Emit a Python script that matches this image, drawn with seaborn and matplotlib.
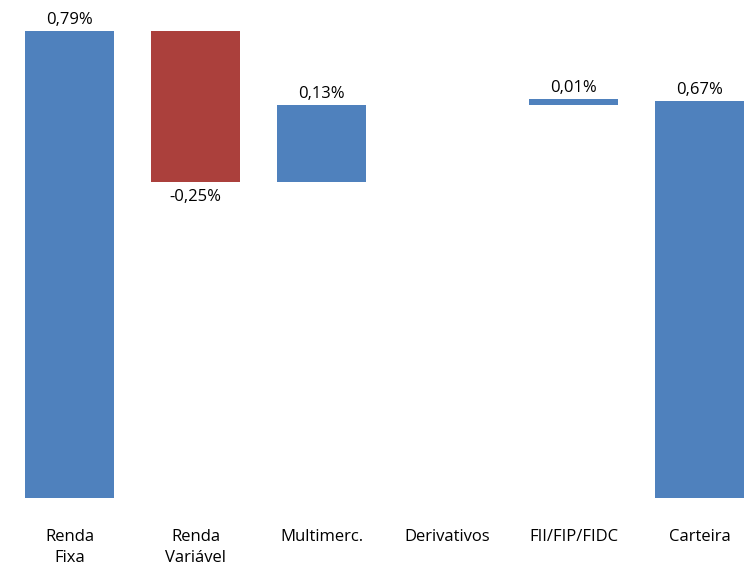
import numpy as np
import pandas as pd
import matplotlib
matplotlib.use("Agg")
import matplotlib.pyplot as plt
import seaborn as sns

# dados do gráfico (contribuição por classe, em %)
categorias = ["Renda\nFixa", "Renda\nVariável", "Multimerc.", "Derivativos", "FII/FIP/FIDC", "Carteira"]
contribuicao = [0.79, -0.255, 0.13, 0.0, 0.01, 0.672]
rotulos = ["0,79%", "-0,25%", "0,13%", "", "0,01%", "0,67%"]
total = [False, False, False, False, False, True]

sns.set_theme(style="white")
plt.rcParams["font.family"] = ["Open Sans", "DejaVu Sans"]

# base de cada barra (cascata)
bases = []
acumulado = 0.0
for v, t in zip(contribuicao, total):
    if t:
        bases.append(0.0)
    else:
        bases.append(acumulado if v >= 0 else acumulado + v)
        acumulado += v
alturas = [abs(v) for v in contribuicao]
cores = ["#4F81BD" if v >= 0 else "#AB403C" for v in contribuicao]

fig = plt.figure(figsize=(7.47, 5.65), dpi=100)
ax = fig.add_axes([6.5 / 747, 67 / 565, 1 - 6.5 / 747, 498 / 565])

x = np.arange(len(categorias))
ax.bar(x, alturas, bottom=bases, width=0.706, color=cores, edgecolor="none")

for i, (v, b, h, r) in enumerate(zip(contribuicao, bases, alturas, rotulos)):
    if not r:
        continue
    if v >= 0:
        ax.text(i, b + h + 0.005, r, ha="center", va="bottom", fontsize=12, color="black")
    else:
        ax.text(i, b - 0.012, r, ha="center", va="top", fontsize=12, color="black")

ax.set_xlim(-0.5, 5.377)
ax.set_ylim(0, 0.8425)
ax.set_xticks(x)
ax.set_xticklabels(categorias, fontsize=12, color="black", linespacing=1.45)
ax.tick_params(axis="x", length=0, pad=22)
ax.set_yticks([])
sns.despine(left=True, bottom=True)

fig.savefig("out.png", dpi=100)
